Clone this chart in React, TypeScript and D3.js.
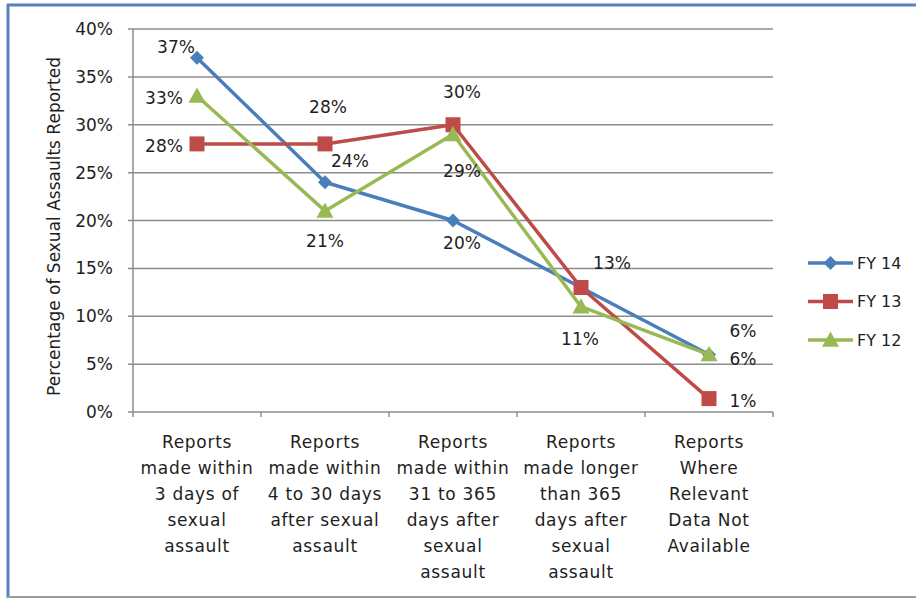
import React from "react";
import * as d3 from "d3";

const categories: string[][] = [
  ["Reports", "made within", "3 days of", "sexual", "assault"],
  ["Reports", "made within", "4 to 30 days", "after sexual", "assault"],
  ["Reports", "made within", "31 to 365", "days after", "sexual", "assault"],
  ["Reports", "made longer", "than 365", "days after", "sexual", "assault"],
  ["Reports", "Where", "Relevant", "Data Not", "Available"],
];

const seriesNames = ["FY 14", "FY 13", "FY 12"];
const fy14 = [37, 24, 20, 13, 6];
const fy13 = [28, 28, 30, 13, 1.4];
const fy12 = [33, 21, 29, 11, 6];
const yTicks = [0, 5, 10, 15, 20, 25, 30, 35, 40];

// label offsets (dx, dy) relative to the marker; null = label hidden
const labelOffsets: ([number, number] | null)[][] = [
  [[-21, -11], [25, -21], [9, 22], [31, -25], [34, -24]],
  [[-33, 2], [3, -37], [9, -33], null, [34, 2]],
  [[-33, 2], [0, 30], [9, 37], [-1, 32], [34, 4]],
];

const colors = ["#4a7ebb", "#be4b48", "#98b954"];
const shapes = ["diamond", "square", "triangle"];

const W = 916;
const H = 598;
const left = 133;
const right = 773;
const top = 29;
const bottom = 412;

function Marker({ shape, x, y, color }: { shape: string; x: number; y: number; color: string }) {
  if (shape === "diamond") {
    const s = 7;
    return <path d={`M${x},${y - s}L${x + s},${y}L${x},${y + s}L${x - s},${y}Z`} fill={color} />;
  }
  if (shape === "square") {
    const s = 7.5;
    return <rect x={x - s} y={y - s} width={2 * s} height={2 * s} fill={color} />;
  }
  const s = 8.5;
  return <path d={`M${x},${y - s}L${x + s},${y + s * 0.8}L${x - s},${y + s * 0.8}Z`} fill={color} />;
}

export default function App() {
  const series = [fy14, fy13, fy12];
  const x = d3.scaleBand<number>().domain(d3.range(categories.length)).range([left, right]);
  const y = d3.scaleLinear().domain([0, 40]).range([bottom, top]);
  const cx = (i: number) => (x(i) ?? 0) + x.bandwidth() / 2;
  const line = d3
    .line<number>()
    .x((_, i) => cx(i))
    .y((d) => y(d));
  const font = "'DejaVu Sans', Verdana, sans-serif";
  const textColor = "#1e1e1e";
  const grid = "#8c8c8c";

  return (
    <svg
      width={W}
      height={H}
      style={{ position: "absolute", left: 0, top: 0, background: "#fff" }}
      fontFamily={font}
    >
      {/* frame */}
      <line x1={7} x2={W} y1={5} y2={5} stroke="#5b80bf" strokeWidth={3} />
      <line x1={8} x2={8} y1={4} y2={H} stroke="#5b80bf" strokeWidth={3} />
      <line x1={7} x2={W} y1={H - 1} y2={H - 1} stroke="#9a9a9a" strokeWidth={2} />

      {/* gridlines and y ticks */}
      {yTicks.map((t) => (
        <g key={t}>
          <line x1={left - 5} x2={right} y1={y(t)} y2={y(t)} stroke={grid} strokeWidth={1.5} />
          <text
            x={113}
            y={y(t)}
            textAnchor="end"
            dominantBaseline="central"
            fontSize={17}
            fill={textColor}
          >
            {t}%
          </text>
        </g>
      ))}
      {/* y axis */}
      <line x1={left} x2={left} y1={top} y2={bottom} stroke={grid} strokeWidth={1.5} />
      {/* x ticks */}
      {d3.range(categories.length + 1).map((i) => {
        const xx = left + i * x.bandwidth();
        return <line key={i} x1={xx} x2={xx} y1={bottom} y2={bottom + 5} stroke={grid} strokeWidth={1.5} />;
      })}
      {/* x labels */}
      {categories.map((lines, i) => (
        <text key={i} x={cx(i)} textAnchor="middle" fontSize={17} letterSpacing={0.7} fill={textColor}>
          {lines.map((l, j) => (
            <tspan key={j} x={cx(i)} y={448 + j * 26}>
              {l}
            </tspan>
          ))}
        </text>
      ))}
      {/* y title */}
      <text
        transform={`translate(60,${(top + bottom) / 2 + 6}) rotate(-90)`}
        textAnchor="middle"
        fontSize={17}
        fill={textColor}
      >
        Percentage of Sexual Assaults Reported
      </text>

      {/* series */}
      {series.map((vals, si) => (
        <g key={si}>
          <path d={line(vals) ?? ""} fill="none" stroke={colors[si]} strokeWidth={3.5} strokeLinejoin="round" />
          {vals.map((v, i) => (
            <Marker key={i} shape={shapes[si]} x={cx(i)} y={y(v)} color={colors[si]} />
          ))}
        </g>
      ))}
      {/* data labels */}
      {series.map((vals, si) =>
        vals.map((v, i) => {
          const off = labelOffsets[si][i];
          if (!off) return null;
          return (
            <text
              key={`${si}-${i}`}
              x={cx(i) + off[0]}
              y={y(v) + off[1]}
              textAnchor="middle"
              dominantBaseline="central"
              fontSize={17}
              fill={textColor}
            >
              {Math.round(v)}%
            </text>
          );
        })
      )}

      {/* legend */}
      {seriesNames.map((n, si) => {
        const ly = 263 + si * 38.5;
        return (
          <g key={n}>
            <line x1={808} x2={853} y1={ly} y2={ly} stroke={colors[si]} strokeWidth={3.5} />
            <Marker shape={shapes[si]} x={830.5} y={ly} color={colors[si]} />
            <text x={857} y={ly} dominantBaseline="central" fontSize={16} fill={textColor}>
              {n}
            </text>
          </g>
        );
      })}
    </svg>
  );
}
